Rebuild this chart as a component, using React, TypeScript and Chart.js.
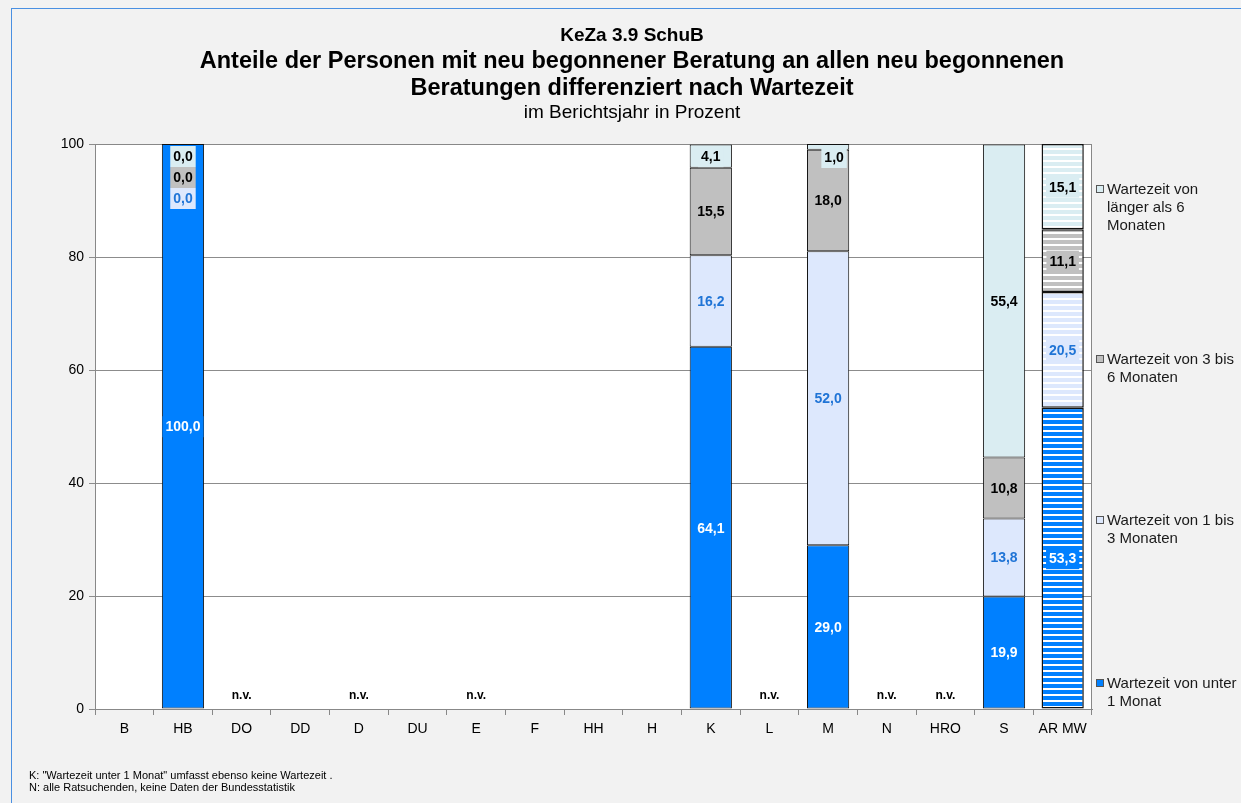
import React, { useEffect, useRef } from 'react';
import { Chart, registerables } from 'chart.js';
Chart.register(...registerables);

const categories = ['B', 'HB', 'DO', 'DD', 'D', 'DU', 'E', 'F', 'HH', 'H', 'K', 'L', 'M', 'N', 'HRO', 'S', 'AR MW'];
const under1Month = [null, 100.0, null, null, null, null, null, null, null, null, 64.1, null, 29.0, null, null, 19.9, 53.3];
const oneToThreeMonths = [null, 0.0, null, null, null, null, null, null, null, null, 16.2, null, 52.0, null, null, 13.8, 20.5];
const threeToSixMonths = [null, 0.0, null, null, null, null, null, null, null, null, 15.5, null, 18.0, null, null, 10.8, 11.1];
const over6Months = [null, 0.0, null, null, null, null, null, null, null, null, 4.1, null, 1.0, null, null, 55.4, 15.1];
const nvCategories = ['DO', 'D', 'E', 'L', 'N', 'HRO'];
const averageCategory = 'AR MW';
const seriesNames = ['Wartezeit von unter 1 Monat', 'Wartezeit von 1 bis 3 Monaten', 'Wartezeit von 3 bis 6 Monaten', 'Wartezeit von länger als 6 Monaten'];
const legendLines = [['Wartezeit von unter', '1 Monat'], ['Wartezeit von 1 bis', '3 Monaten'], ['Wartezeit von 3 bis', '6 Monaten'], ['Wartezeit von', 'länger als 6', 'Monaten']];
const seriesColors = ['#0080ff', '#dde8fd', '#c0c0c0', '#daedf2'];
const labelColors = ['#ffffff', '#1f74d6', '#000000', '#000000'];
const titleLines = ['KeZa 3.9 SchuB', 'Anteile der Personen mit neu begonnener Beratung an allen neu begonnenen', 'Beratungen differenziert nach Wartezeit', 'im Berichtsjahr in Prozent'];
const footnotes = ['K: "Wartezeit unter 1 Monat" umfasst ebenso keine Wartezeit .', 'N: alle Ratsuchenden, keine Daten der Bundesstatistik'];

const FONT = '"Liberation Sans", Arial, sans-serif';

function makePattern(color: string) {
  const c = document.createElement('canvas');
  c.width = 4;
  c.height = 6;
  const g = c.getContext('2d')!;
  g.fillStyle = '#ffffff';
  g.fillRect(0, 0, 4, 6);
  g.fillStyle = color;
  g.fillRect(0, 0, 4, 4);
  return g.createPattern(c, 'repeat');
}

const fmt = (v: number) => v.toFixed(1).replace('.', ',');

const decorPlugin = {
  id: 'decor',
  beforeDraw(chart: any) {
    const { ctx, chartArea: a, width, height } = chart;
    ctx.save();
    ctx.fillStyle = '#f2f2f2';
    ctx.fillRect(0, 0, width, height);
    ctx.strokeStyle = '#4a90e2';
    ctx.lineWidth = 1;
    ctx.strokeRect(11.5, 8.5, width + 10, height + 10);
    ctx.fillStyle = '#ffffff';
    ctx.fillRect(a.left, a.top, a.right - a.left, a.bottom - a.top);
    // titles
    ctx.textAlign = 'center';
    ctx.textBaseline = 'middle';
    ctx.fillStyle = '#000';
    const cx = 632;
    ctx.font = `bold 19px ${FONT}`;
    ctx.fillText(titleLines[0], cx, 36);
    ctx.font = `bold 23.5px ${FONT}`;
    ctx.fillText(titleLines[1], cx, 62);
    ctx.fillText(titleLines[2], cx, 89);
    ctx.font = `19px ${FONT}`;
    ctx.fillText(titleLines[3], cx, 113);
    // footnotes
    ctx.textAlign = 'left';
    ctx.font = `11px ${FONT}`;
    ctx.fillText(footnotes[0], 29, 776);
    ctx.fillText(footnotes[1], 29, 788);
    // legend
    const legendY = [684, 521, 360, 190];
    for (let i = 0; i < 4; i++) {
      const y0 = legendY[i];
      ctx.fillStyle = seriesColors[i];
      ctx.fillRect(1096.5, y0 - 4.5, 7, 7);
      ctx.strokeStyle = '#555';
      ctx.strokeRect(1096.5, y0 - 4.5, 7, 7);
      ctx.fillStyle = '#1a1a1a';
      ctx.font = `15px ${FONT}`;
      legendLines[i].forEach((t, k) => ctx.fillText(t, 1107, y0 + k * 18));
    }
    ctx.restore();
  },
  beforeDatasetsDraw(chart: any) {
    const { ctx, chartArea: a } = chart;
    ctx.save();
    ctx.strokeStyle = '#888';
    ctx.lineWidth = 1;
    ctx.strokeRect(Math.round(a.left) + 0.5, Math.round(a.top) + 0.5, Math.round(a.right - a.left) - 1, Math.round(a.bottom - a.top));
    ctx.restore();
  },
  afterDatasetsDraw(chart: any) {
    const { ctx, chartArea: a } = chart;
    const xs = chart.scales.x;
    ctx.save();
    ctx.textAlign = 'center';
    ctx.textBaseline = 'middle';
    ctx.font = `bold 14px ${FONT}`;
    const zeroCount: Record<number, number> = {};
    for (let d = 3; d >= 0; d--) {
      const meta = chart.getDatasetMeta(d);
      const data = chart.data.datasets[d].data as (number | null)[];
      meta.data.forEach((el: any, i: number) => {
        const v = data[i];
        if (v === null || v === undefined) return;
        let x = el.x;
        let y = (el.y + el.base) / 2;
        const h = Math.abs(el.base - el.y);
        if (v === 0) {
          const k = zeroCount[i] || 0;
          zeroCount[i] = k + 1;
          y = a.top + 12 + k * 21;
        } else if (h < 18) {
          y = Math.max(y, a.top + 12);
          if (h < 10) { x += 6; y = a.top + 13; }
        }
        const text = fmt(v);
        const tw = ctx.measureText(text).width;
        ctx.fillStyle = seriesColors[d];
        ctx.fillRect(x - tw / 2 - 3, y - 10, tw + 6, 21);
        ctx.fillStyle = labelColors[d];
        ctx.fillText(text, x, y + 1);
      });
    }
    ctx.font = `bold 12px ${FONT}`;
    ctx.fillStyle = '#000';
    nvCategories.forEach((c) => {
      const idx = categories.indexOf(c);
      ctx.fillText('n.v.', xs.getPixelForValue(idx), a.bottom - 13);
    });
    ctx.restore();
  },
};

export default function App() {
  const ref = useRef<HTMLCanvasElement>(null);
  useEffect(() => {
    const avgIdx = categories.indexOf(averageCategory);
    const series = [under1Month, oneToThreeMonths, threeToSixMonths, over6Months];
    const patterns = seriesColors.map((c) => makePattern(c));
    const chart = new Chart(ref.current!, {
      type: 'bar',
      data: {
        labels: categories,
        datasets: series.map((s, d) => ({
          label: seriesNames[d],
          data: s,
          backgroundColor: (c: any) => (c.dataIndex === avgIdx ? patterns[d] : seriesColors[d]),
          borderColor: '#111',
          borderWidth: (c: any) => (c.dataIndex === avgIdx ? 1.5 : 1),
          borderSkipped: false,
          barPercentage: 0.72,
          categoryPercentage: 1,
        })) as any,
      },
      options: {
        animation: false,
        responsive: false,
        maintainAspectRatio: false,
        layout: { padding: { left: 40, right: 149, top: 144, bottom: 34 } },
        plugins: { legend: { display: false }, tooltip: { enabled: false }, title: { display: false } },
        scales: {
          x: {
            stacked: true,
            offset: true,
            grid: { drawOnChartArea: false, drawTicks: true, tickLength: 6, color: '#888', offset: true },
            border: { color: '#888' },
            ticks: { color: '#000', font: { size: 14, family: FONT }, padding: 6, maxRotation: 0, autoSkip: false },
            afterFit: (s: any) => { s.height = 60; },
          },
          y: {
            stacked: true,
            min: 0,
            max: 100,
            grid: { color: '#8c8c8c', tickLength: 6 },
            border: { color: '#888' },
            ticks: { stepSize: 20, color: '#000', font: { size: 14, family: FONT }, padding: 5 },
            afterFit: (s: any) => { s.width = 55; },
          },
        },
      },
      plugins: [decorPlugin],
    });
    return () => chart.destroy();
  }, []);
  return (
    <div style={{ position: 'fixed', left: 0, top: 0, width: 1241, height: 803 }}>
      <canvas ref={ref} width={1241} height={803} style={{ width: 1241, height: 803, display: 'block' }} />
    </div>
  );
}
